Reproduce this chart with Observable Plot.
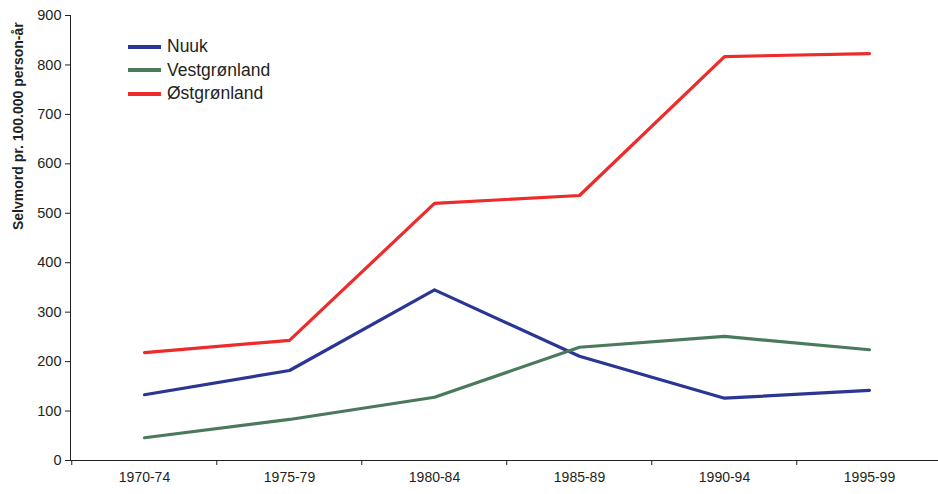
<!DOCTYPE html>
<html><head><meta charset="utf-8">
<script src="https://cdn.jsdelivr.net/npm/d3@7"></script>
<script src="https://cdn.jsdelivr.net/npm/@observablehq/plot@0.6"></script>
<style>
body{margin:0;background:#fff;font-family:"Liberation Sans",Arial,sans-serif}
#wrap{position:relative;width:938px;height:494px}
#legend{position:absolute;left:128px;top:35px;font-size:17.5px;color:#231f20}
.item{display:flex;align-items:center;height:23.5px}
.sw{width:33px;height:4px;margin-right:6px}
</style></head><body><div id="wrap"><div id="legend"></div></div>
<script>
const periods = ["1970-74","1975-79","1980-84","1985-89","1990-94","1995-99"];
const nuuk = [133,182,345,211,126,142];
const vestgronland = [46,83,128,229,251,224];
const ostgronland = [218,243,520,536,817,823];
const seriesNames = ["Nuuk","Vestgrønland","Østgrønland"];
const seriesColors = ["#2b3594","#4a7a5b","#ee2b2b"];
const yTicks = [0,100,200,300,400,500,600,700,800,900];
const yLabel = "Selvmord pr. 100.000 person-år";

const seriesValues = [nuuk, vestgronland, ostgronland];
const data = seriesNames.flatMap((s,k)=>periods.map((p,i)=>({period:p, series:s, value:seriesValues[k][i]})));

const chart = Plot.plot({
  width:938, height:494, marginTop:15, marginBottom:34, marginLeft:70, marginRight:0,
  style:{fontFamily:"Liberation Sans, Arial, sans-serif", fontSize:"14px", color:"#231f20", background:"#fff"},
  x:{type:"point", domain:periods, range:[142.75,870.25], padding:0, label:null},
  y:{domain:[0,900], label:null},
  color:{domain:seriesNames, range:seriesColors},
  marks:[
    Plot.axisY({ticks:yTicks, tickSize:5, tickPadding:4, label:null, stroke:"#231f20", fill:"#231f20", fontSize:14.5}),
    Plot.axisX({ticks:periods, tickSize:5, dx:-72.75, tickFormat:()=>"", label:null, stroke:"#231f20"}),
    Plot.axisX({ticks:periods, tickSize:0, tickPadding:12, label:null, fill:"#231f20", fontSize:14}),
    Plot.frame({anchor:"left", stroke:"#231f20"}),
    Plot.frame({anchor:"bottom", stroke:"#231f20"}),
    Plot.text([yLabel], {frameAnchor:"left", rotate:-90, dx:-52, dy:-8, fontWeight:"bold", fontSize:14, fill:"#231f20"}),
    Plot.line(data, {x:"period", y:"value", z:"series", stroke:"series", strokeWidth:3.2})
  ]
});
const wrap = document.getElementById("wrap");
wrap.insertBefore(chart, wrap.firstChild);
const legend = document.getElementById("legend");
seriesNames.forEach((s,i)=>{
  const it = document.createElement("div"); it.className="item";
  const sw = document.createElement("span"); sw.className="sw"; sw.style.background=seriesColors[i];
  const t = document.createElement("span"); t.textContent=s;
  it.appendChild(sw); it.appendChild(t); legend.appendChild(it);
});
</script></body></html>
